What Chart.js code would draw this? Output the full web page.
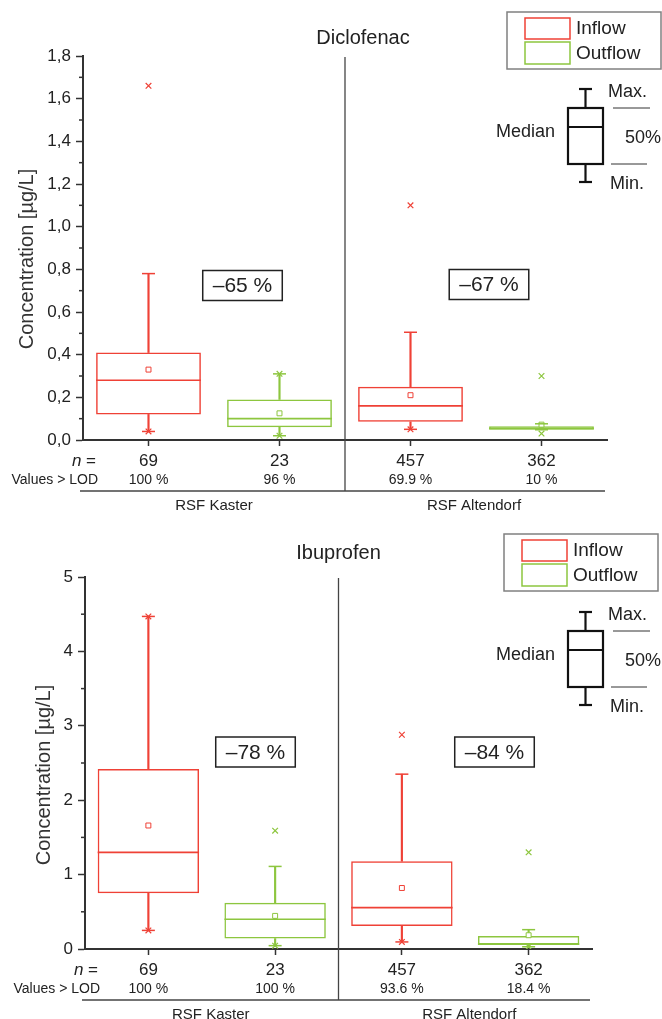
<!DOCTYPE html>
<html>
<head>
<meta charset="utf-8">
<script src="https://cdn.jsdelivr.net/npm/chart.js@4"></script>
<style>
  html, body { margin: 0; padding: 0; background: #fff; }
  #wrap { position: relative; width: 662px; height: 1019px; }
  canvas { position: absolute; left: 0; }
</style>
</head>
<body>
<div id="wrap">
  <canvas id="dic" width="662" height="512" style="top:0"></canvas>
  <canvas id="ibu" width="662" height="507" style="top:512px"></canvas>
</div>
<script>
// ---------- shared categories ----------
const categories = ['69', '23', '457', '362'];          // n per box
const seriesNames = ['Inflow', 'Outflow'];
const siteNames = ['RSF Kaster', 'RSF Altendorf'];
const yTitle = 'Concentration [µg/L]';

// ---------- Diclofenac ----------
const dicTitle = 'Diclofenac';
const dicLod = ['100 %', '96 %', '69.9 %', '10 %'];
const dicWhiskerLow  = [0.04, 0.02, 0.05, 0.048];
const dicQ1          = [0.12, 0.06, 0.085, 0.048];
const dicMedian      = [0.28, 0.10, 0.16, 0.054];
const dicQ3          = [0.41, 0.19, 0.25, 0.064];
const dicWhiskerHigh = [0.78, 0.31, 0.505, 0.076];
const dicMean        = [0.33, 0.125, 0.21, 0.072];
const dicMin         = [0.04, 0.02, 0.05, 0.03];
const dicMax         = [1.66, 0.31, 1.10, 0.30];
const dicReduction   = ['–65 %', '–67 %'];
const dicTicks = ['0,0', '0,2', '0,4', '0,6', '0,8', '1,0', '1,2', '1,4', '1,6', '1,8'];

// ---------- Ibuprofen ----------
const ibuTitle = 'Ibuprofen';
const ibuLod = ['100 %', '100 %', '93.6 %', '18.4 %'];
const ibuWhiskerLow  = [0.25, 0.045, 0.095, 0.03];
const ibuQ1          = [0.75, 0.14, 0.31, 0.06];
const ibuMedian      = [1.30, 0.40, 0.555, 0.065];
const ibuQ3          = [2.42, 0.62, 1.18, 0.175];
const ibuWhiskerHigh = [4.47, 1.11, 2.35, 0.26];
const ibuMean        = [1.66, 0.445, 0.82, 0.185];
const ibuMin         = [0.25, 0.045, 0.095, 0.03];
const ibuMax         = [4.47, 1.59, 2.88, 1.30];
const ibuReduction   = ['–78 %', '–84 %'];
const ibuTicks = ['0', '1', '2', '3', '4', '5'];

// ---------- styling ----------
const FONT = "'Liberation Sans', Arial, Helvetica, sans-serif";
const INK = '#222';
const AXIS = '#333';
const RED = '#EF4136';
const GREEN = '#8DC63F';
const boxColors = [RED, GREEN, RED, GREEN];

function seg(ctx, x1, y1, x2, y2) {
  ctx.beginPath(); ctx.moveTo(x1, y1); ctx.lineTo(x2, y2); ctx.stroke();
}

function drawLegend(ctx, fx, fy) {
  ctx.save();
  ctx.strokeStyle = '#808080'; ctx.lineWidth = 1.5;
  ctx.strokeRect(fx, fy, 154, 57);
  ctx.lineWidth = 1.5;
  ctx.strokeStyle = RED;   ctx.strokeRect(fx + 18, fy + 6, 45, 21);
  ctx.strokeStyle = GREEN; ctx.strokeRect(fx + 18, fy + 30, 45, 22);
  ctx.fillStyle = INK; ctx.font = `19px ${FONT}`;
  ctx.textAlign = 'left'; ctx.textBaseline = 'middle';
  ctx.fillText(seriesNames[0], fx + 69, fy + 17);
  ctx.fillText(seriesNames[1], fx + 69, fy + 41.5);
  ctx.restore();
}

function drawKey(ctx, bx, by) {
  const w = 35, h = 56, cx = bx + w / 2;
  ctx.save();
  ctx.strokeStyle = '#111'; ctx.lineWidth = 2.2;
  ctx.strokeRect(bx, by, w, h);
  seg(ctx, bx, by + 19, bx + w, by + 19);
  seg(ctx, cx, by, cx, by - 19); seg(ctx, cx - 6.5, by - 19, cx + 6.5, by - 19);
  seg(ctx, cx, by + h, cx, by + h + 18); seg(ctx, cx - 6.5, by + h + 18, cx + 6.5, by + h + 18);
  ctx.lineWidth = 1; ctx.strokeStyle = '#333';
  seg(ctx, bx + 45, by, bx + 82, by);
  seg(ctx, bx + 43, by + h, bx + 79, by + h);
  ctx.fillStyle = INK; ctx.font = `18px ${FONT}`; ctx.textBaseline = 'middle';
  ctx.textAlign = 'left';
  ctx.fillText('Max.', bx + 40, by - 16);
  ctx.fillText('50%', bx + 57, by + 30);
  ctx.fillText('Min.', bx + 42, by + h + 20);
  ctx.textAlign = 'right';
  ctx.fillText('Median', bx - 13, by + 24);
  ctx.restore();
}

function decoPlugin(p) {
  return {
    id: 'deco',
    afterDraw(chart) {
      const ctx = chart.ctx, xs = chart.scales.x, ys = chart.scales.y, a = chart.chartArea;
      ctx.save();
      // minor ticks on y axis
      ctx.strokeStyle = AXIS; ctx.lineWidth = 1.5;
      for (let k = 1; ; k++) {
        const v = p.minorStep * (2 * k - 1);
        if (v > ys.max) break;
        const py = ys.getPixelForValue(v);
        seg(ctx, a.left - 4, py, a.left, py);
      }
      // separator lines
      const sepX = (xs.getPixelForValue(1) + xs.getPixelForValue(2)) / 2;
      ctx.strokeStyle = '#444'; ctx.lineWidth = 1.3;
      seg(ctx, sepX, a.top + 1, sepX, a.bottom + 51);
      seg(ctx, a.left - 3, a.bottom + 51, a.right - 2, a.bottom + 51);
      // title
      ctx.fillStyle = INK; ctx.textBaseline = 'middle'; ctx.textAlign = 'center';
      ctx.font = `20px ${FONT}`;
      ctx.fillText(p.title, sepX + p.titleDx, p.titleY);
      // y title
      ctx.save();
      ctx.translate(p.yTitleX, (a.top + a.bottom) / 2 + p.yTitleDy);
      ctx.rotate(-Math.PI / 2);
      ctx.fillStyle = '#333'; ctx.font = `20px ${FONT}`;
      ctx.fillText(yTitle, 0, 0);
      ctx.restore();
      // LOD row
      ctx.font = `14px ${FONT}`; ctx.fillStyle = INK;
      p.lod.forEach((t, i) => ctx.fillText(t, xs.getPixelForValue(i), a.bottom + 40));
      ctx.textAlign = 'right';
      ctx.fillText('Values > LOD', a.left + 15, a.bottom + 40);
      // n = label
      ctx.font = `17px ${FONT}`;
      const eqW = ctx.measureText(' =').width;
      ctx.fillText(' =', a.left + 13, a.bottom + 21);
      ctx.font = `italic 17px ${FONT}`;
      ctx.fillText('n', a.left + 13 - eqW, a.bottom + 21);
      // site labels
      ctx.textAlign = 'center'; ctx.font = `15px ${FONT}`;
      siteNames.forEach((s, k) => {
        const cx = (xs.getPixelForValue(2 * k) + xs.getPixelForValue(2 * k + 1)) / 2;
        ctx.fillText(s, cx + p.siteDx[k], a.bottom + 66);
      });
      // reduction boxes
      ctx.font = `21px ${FONT}`;
      p.reduction.forEach((t, k) => {
        const [cx, cy] = p.redPos[k];
        const w = ctx.measureText(t).width + 20, h = 30;
        ctx.strokeStyle = '#222'; ctx.lineWidth = 1.5;
        ctx.strokeRect(cx - w / 2, cy - h / 2, w, h);
        ctx.fillStyle = INK;
        ctx.fillText(t, cx, cy + 1);
      });
      drawLegend(ctx, p.legend[0], p.legend[1]);
      drawKey(ctx, p.key[0], p.key[1]);
      ctx.restore();
    }
  };
}

function boxChart(id, d, p) {
  const pts = (data, style, radius, extra) => Object.assign({
    type: 'line', data, showLine: false, pointStyle: style, pointRadius: radius,
    pointBorderColor: boxColors, pointBackgroundColor: boxColors, pointBorderWidth: 1.5,
    pointHoverRadius: radius, order: 1
  }, extra || {});
  return new Chart(document.getElementById(id), {
    type: 'bar',
    data: {
      labels: categories,
      datasets: [
        { type: 'bar', data: d.q1.map((v, i) => [v, d.q3[i]]), backgroundColor: 'rgba(255,255,255,0)',
          borderColor: boxColors, borderWidth: 1.5, borderSkipped: false, grouped: false,
          barPercentage: 0.8, categoryPercentage: 1, order: 3 },
        { type: 'bar', data: d.q3.map((v, i) => [v, d.wHi[i]]), backgroundColor: boxColors,
          borderWidth: 0, barThickness: 1.5, grouped: false, order: 3 },
        { type: 'bar', data: d.wLo.map((v, i) => [v, d.q1[i]]), backgroundColor: boxColors,
          borderWidth: 0, barThickness: 1.5, grouped: false, order: 3 },
        pts(d.median, 'line', c => c.chart.scales.x.width / categories.length * 0.4, { pointBorderWidth: 1.7 }),
        pts(d.wHi, 'line', 6.5),
        pts(d.wLo, 'line', 6.5),
        pts(d.mean, 'rect', 3.5, { pointBackgroundColor: '#fff', pointBorderWidth: 1 }),
        pts(d.min, 'crossRot', 4, { pointBorderWidth: 1.2 }),
        pts(d.max, 'crossRot', 4, { pointBorderWidth: 1.2 })
      ]
    },
    options: {
      responsive: false,
      animation: false,
      events: [],
      layout: { padding: { top: p.areaTop, left: 0, right: p.padRight, bottom: 0 } },
      plugins: { legend: { display: false }, tooltip: { enabled: false }, title: { display: false } },
      scales: {
        x: {
          type: 'category', offset: true,
          grid: { drawOnChartArea: false, offset: false, tickLength: 6, tickWidth: 1.5, tickColor: AXIS },
          border: { color: AXIS, width: 2 },
          ticks: { font: { size: 17, family: FONT }, color: INK, padding: 5, maxRotation: 0, autoSkip: false },
          afterFit(s) { s.height = p.xAxisHeight; }
        },
        y: {
          min: 0, max: p.yMax,
          grid: { drawOnChartArea: false, tickLength: 7, tickWidth: 1.5, tickColor: AXIS },
          border: { color: AXIS, width: 2 },
          ticks: { stepSize: p.yStep, font: { size: 17, family: FONT }, color: INK, padding: 5,
                   callback: v => p.ticks[Math.round(v / p.yStep)] },
          afterFit(s) { s.width = p.yAxisWidth; }
        }
      }
    },
    plugins: [decoPlugin(p)]
  });
}

boxChart('dic',
  { wLo: dicWhiskerLow, q1: dicQ1, median: dicMedian, q3: dicQ3, wHi: dicWhiskerHigh,
    mean: dicMean, min: dicMin, max: dicMax },
  { title: dicTitle, titleDx: 18, titleY: 38, lod: dicLod, reduction: dicReduction, ticks: dicTicks,
    yMax: 1.8, yStep: 0.2, minorStep: 0.1, areaTop: 56, padRight: 55, xAxisHeight: 72, yAxisWidth: 83,
    yTitleX: 27, yTitleDy: 11, siteDx: [0, -2],
    redPos: [[242.5, 285.5], [489, 284.5]], legend: [507, 12], key: [568, 108] });

boxChart('ibu',
  { wLo: ibuWhiskerLow, q1: ibuQ1, median: ibuMedian, q3: ibuQ3, wHi: ibuWhiskerHigh,
    mean: ibuMean, min: ibuMin, max: ibuMax },
  { title: ibuTitle, titleDx: 0, titleY: 41, lod: ibuLod, reduction: ibuReduction, ticks: ibuTicks,
    yMax: 5, yStep: 1, minorStep: 0.5, areaTop: 65, padRight: 70, xAxisHeight: 70, yAxisWidth: 85,
    yTitleX: 44, yTitleDy: 12, siteDx: [-1, 4],
    redPos: [[255.5, 240], [494.5, 240]], legend: [504, 22], key: [568, 119] });
</script>
</body>
</html>
